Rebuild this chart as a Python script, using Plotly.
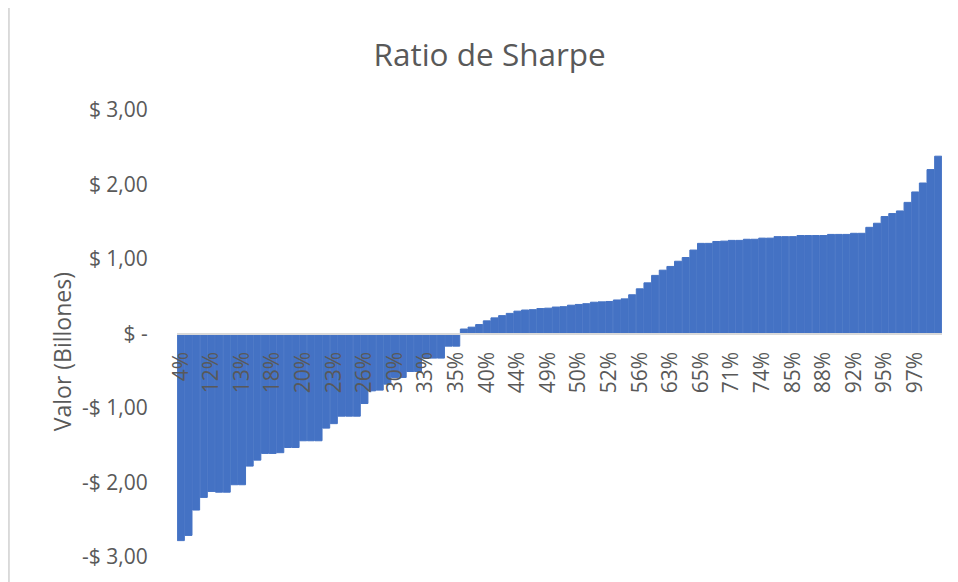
import plotly.graph_objects as go

# Sharpe ratio values (billions), sorted ascending, 100 portfolios
sharpe_values = [
    -2.78, -2.71, -2.37, -2.20, -2.12, -2.13, -2.13, -2.03, -2.03, -1.78,
    -1.70, -1.61, -1.61, -1.60, -1.53, -1.53, -1.44, -1.44, -1.44, -1.27,
    -1.21, -1.11, -1.11, -1.11, -0.94, -0.77, -0.76, -0.68, -0.59, -0.59,
    -0.51, -0.51, -0.33, -0.33, -0.33, -0.17, -0.17,
    0.06, 0.085, 0.12, 0.17, 0.21, 0.24, 0.27, 0.30, 0.315, 0.32,
    0.335, 0.34, 0.355, 0.36, 0.38, 0.39, 0.40, 0.42, 0.425, 0.43,
    0.45, 0.465, 0.52, 0.60, 0.68, 0.78, 0.85, 0.90, 0.97, 1.02,
    1.12, 1.21, 1.21, 1.235, 1.24, 1.25, 1.25, 1.265, 1.265, 1.28,
    1.28, 1.30, 1.30, 1.30, 1.315, 1.315, 1.315, 1.315, 1.33, 1.33,
    1.33, 1.345, 1.345, 1.425, 1.48, 1.57, 1.61, 1.645, 1.76, 1.90,
    2.02, 2.20, 2.38,
]
portfolio_index = list(range(len(sharpe_values)))

# category labels shown on the axis (every 4th portfolio)
x_tick_labels = ["4%", "12%", "13%", "18%", "20%", "23%", "26%", "30%", "33%",
                 "35%", "40%", "44%", "49%", "50%", "52%", "56%", "63%", "65%",
                 "71%", "74%", "85%", "88%", "92%", "95%", "97%"]
x_tick_step = 4

y_tick_values = [3, 2, 1, 0, -1, -2, -3]
y_tick_labels = ["$ 3,00", "$ 2,00", "$ 1,00", "$ -", "-$ 1,00", "-$ 2,00", "-$ 3,00"]

FONT = "Open Sans, Calibri, sans-serif"
GREY = "#595959"
BLUE = "#4472C4"

fig = go.Figure(go.Bar(
    x=portfolio_index,
    y=sharpe_values,
    marker=dict(color=BLUE, line=dict(color=BLUE, width=1)),
))

# page body has an 8px margin, so the figure is sized/offset to compensate
fig.update_layout(
    width=950, height=574,
    paper_bgcolor="white", plot_bgcolor="white",
    margin=dict(l=169, r=16, t=102, b=25),
    bargap=0.08,
    showlegend=False,
    title=dict(text="Ratio de Sharpe", x=0.507, xanchor="center",
               y=0.918, yanchor="middle",
               font=dict(family=FONT, size=31.5, color=GREY)),
    font=dict(family=FONT, color=GREY),
)

fig.update_xaxes(
    range=[-0.5, len(sharpe_values) - 0.5],
    tickmode="array",
    tickvals=portfolio_index[::x_tick_step],
    ticktext=x_tick_labels,
    tickangle=-90,
    tickfont=dict(family=FONT, size=21, color=GREY),
    ticks="outside", ticklen=9, tickcolor="rgba(0,0,0,0)",
    anchor="free", position=0.5,
    showline=True, linecolor="#d9d9d9", linewidth=2,
    showgrid=False, zeroline=False,
    layer="above traces",
)

fig.update_yaxes(
    range=[-3, 3],
    tickmode="array",
    tickvals=y_tick_values,
    ticktext=y_tick_labels,
    tickfont=dict(family=FONT, size=21, color=GREY),
    ticks="outside", ticklen=24, tickcolor="rgba(0,0,0,0)",
    showgrid=False, zeroline=False, showline=False,
)

fig.add_annotation(
    text="Valor (Billones)", textangle=-90,
    xref="paper", yref="paper", x=-0.150, y=0.4586,
    xanchor="center", yanchor="middle", showarrow=False,
    font=dict(family=FONT, size=23, color=GREY),
)

# chart-area border on the left
fig.add_shape(type="line", xref="paper", yref="paper",
              x0=-0.2198, x1=-0.2198, y0=-0.06, y1=1.25,
              line=dict(color="#d9d9d9", width=2))

fig.write_html("out.html")
